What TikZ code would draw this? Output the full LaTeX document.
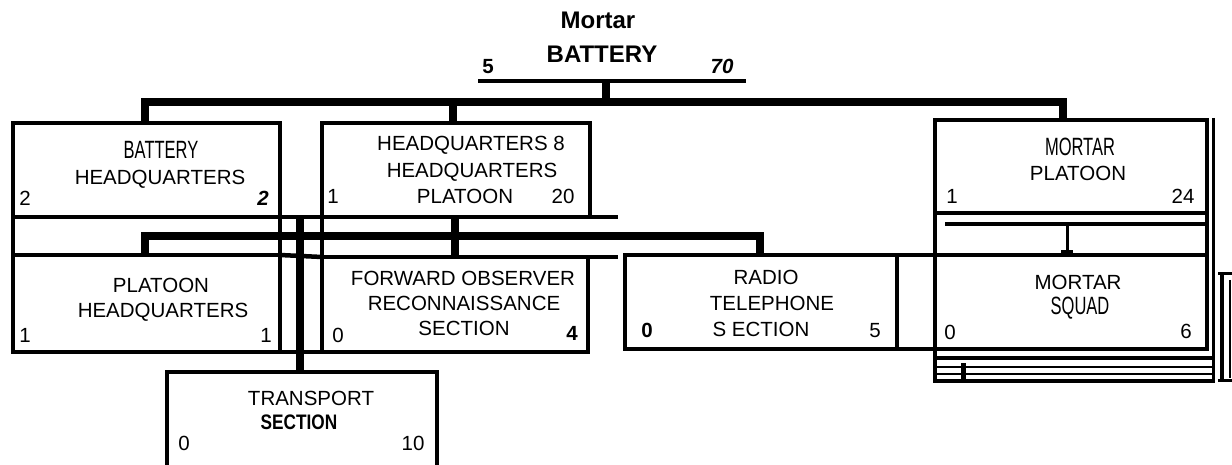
\documentclass[tikz,border=0pt]{standalone}
\usepackage{fontspec}
\setmainfont{Liberation Sans}
\newfontfamily\narrowf[FakeStretch=0.66]{Liberation Sans}
\newfontfamily\narrowbf[FakeStretch=0.82]{Liberation Sans}
\begin{document}
\begin{tikzpicture}[x=1pt,y=-1pt,
  unit/.style={draw, line width=4.5pt, inner sep=0, outer sep=0, anchor=north west},
  t/.style={inner sep=0, font=\fontsize{20.5}{20.5}\selectfont, text height=14.7pt, text depth=0pt},
  tn/.style={inner sep=0, font=\fontsize{25}{25}\narrowf, text height=17.9pt, text depth=0pt},
  tb/.style={inner sep=0, font=\fontsize{24}{24}\selectfont\bfseries, text height=17.2pt, text depth=0pt},
  bar/.style={line width=7.5pt},
  rule/.style={line width=4.5pt},
  fine/.style={line width=3pt}]
\useasboundingbox (0,0) rectangle (1232,465);
\clip (0,0) rectangle (1232,465);

% title
\node[tb] (ttl1) at (598,20) {Mortar};
\node[tb] (ttl2) at (602,54) {BATTERY};
\node[t, font=\fontsize{20.5}{20.5}\selectfont\bfseries] (n5) at (488,66) {5};
\node[t, font=\fontsize{20.5}{20.5}\selectfont\bfseries\itshape] (n70) at (722,66) {70};
\coordinate (rl) at (478,81);
\coordinate (rr) at (746,81);
\draw[rule] (rl) -- (rr);

% units
\node[unit, minimum width=267pt, minimum height=94pt] (b1) at (13,123) {};
\node[unit, minimum width=268pt, minimum height=94pt] (hq) at (322,123) {};
\node[unit, minimum width=272pt, minimum height=93pt] (mp) at (935,120) {};
\node[unit, minimum width=267pt, minimum height=97pt] (phq) at (13,255) {};
\node[unit, minimum width=266pt, minimum height=95pt] (fo) at (322,257) {};
\node[unit, minimum width=272pt, minimum height=94pt] (rt) at (625,255) {};
\node[unit, minimum width=272pt, minimum height=94pt] (ms) at (935,255) {};
\node[unit, minimum width=270pt, minimum height=110pt] (tr) at (167,372) {};

% texts
\node[tn] (b1a) at (161,150) {BATTERY};
\node[t] (b1b) at (160,177) {HEADQUARTERS};
\node[t] (b1l) at (25,198) {2};
\node[t, font=\fontsize{20.5}{20.5}\selectfont\bfseries\itshape] (b1r) at (263,198) {2};

\node[t] (hqa) at (471,143) {HEADQUARTERS 8};
\node[t] (hqb) at (472,170) {HEADQUARTERS};
\node[t] (hqc) at (465,196) {PLATOON};
\node[t] (hql) at (333,196) {1};
\node[t] (hqr) at (563,196) {20};

\node[tn] (mpa) at (1080,147) {MORTAR};
\node[t] (mpb) at (1078,173) {PLATOON};
\node[t] (mpl) at (952,196) {1};
\node[t] (mpr) at (1183,196) {24};

\node[t] (phqa) at (161,285) {PLATOON};
\node[t] (phqb) at (163,310) {HEADQUARTERS};
\node[t] (phql) at (25,335) {1};
\node[t] (phqr) at (266,335) {1};

\node[t] (foa) at (463,278) {FORWARD OBSERVER};
\node[t] (fob) at (464,303) {RECONNAISSANCE};
\node[t] (foc) at (464,328) {SECTION};
\node[t] (fol) at (338,335) {0};
\node[t, font=\fontsize{20.5}{20.5}\selectfont\bfseries] (for) at (572,333) {4};

\node[t] (rta) at (766,277) {RADIO};
\node[t] (rtb) at (772,303) {TELEPHONE};
\node[t] (rtc) at (761,329) {S ECTION};
\node[t, font=\fontsize{20.5}{20.5}\selectfont\bfseries] (rtl) at (647,330) {0};
\node[t] (rtr) at (875,330) {5};

\node[t] (msa) at (1078,282) {MORTAR};
\node[tn] (msb) at (1080,306) {SQUAD};
\node[t] (msl) at (950,332) {0};
\node[t] (msr) at (1186,331) {6};

\node[t] (tra) at (311,398) {TRANSPORT};
\node[t, font=\fontsize{21}{21}\narrowbf\bfseries] (trb) at (299,422) {SECTION};
\node[t] (trl) at (184,443) {0};
\node[t] (trr) at (413,443) {10};

% battery to its units
\coordinate (st) at (606,81);
\coordinate (br) at (1063,102);
\draw[bar] (st) -- (st |- br);
\draw[bar] (b1.north -| 145,0) |- (br) -- (mp.north -| br);
\draw[bar] (hq.north -| 453,0) -- (453,102);

% left grid between rows
\draw[rule] (b1.south west) -- (phq.north west);
\draw[rule] (b1.south east) -- (phq.north east);
\draw[rule] (hq.south west) -- (fo.north west);
\draw[rule] (b1.south east) -- (hq.south west);
\draw[rule] (phq.north east) -- (fo.north west);
\draw[rule] (phq.south east) -- (fo.south west);
\draw[rule] (hq.south east) -- ++(28,0);
\draw[rule] (fo.north east) -- ++(30,0);

% headquarters platoon to its sections
\coordinate (hb) at (760,236);
\draw[bar] (phq.north -| 145,0) |- (hb) -- (rt.north -| hb);
\draw[bar] (hq.south -| 455,0) -- (fo.north -| 455,0);
\draw[bar] (b1.south -| 300,0) -- (tr.north -| 300,0);

% radio / squad join
\draw[rule] (rt.north east) -- (ms.north west);
\draw[rule] (rt.south east) -- (ms.south west);

% mortar platoon to squad
\draw[rule] (mp.south west) -- (ms.north west);
\draw[rule] (mp.south east) -- (ms.north east);
\draw[rule] (945,224) -- (1207,224);
\draw[fine] (1067,224) -- (1067,252);
\draw[fine] (1061,252) -- (1073,252);
\draw[fine] (1213,118) -- (1213,382);

% lines below the squad
\draw[rule] (ms.south west) -- (935,382);
\draw[rule] (935,358) -- (1213,358);
\draw[line width=2pt] (935,367) -- (1213,367);
\draw[line width=2pt] (935,374) -- (1213,374);
\draw[rule] (933,381) -- (1215,381);
\draw[line width=5pt] (963,363) -- (963,383);

% bracket at right
\draw[rule] (1222,274) -- (1222,380);
\draw[fine] (1218,274) -- (1232,274);
\draw[fine] (1218,380) -- (1232,380);
\draw[line width=1.5pt] (1230,280) -- (1230,378);
\end{tikzpicture}
\end{document}
